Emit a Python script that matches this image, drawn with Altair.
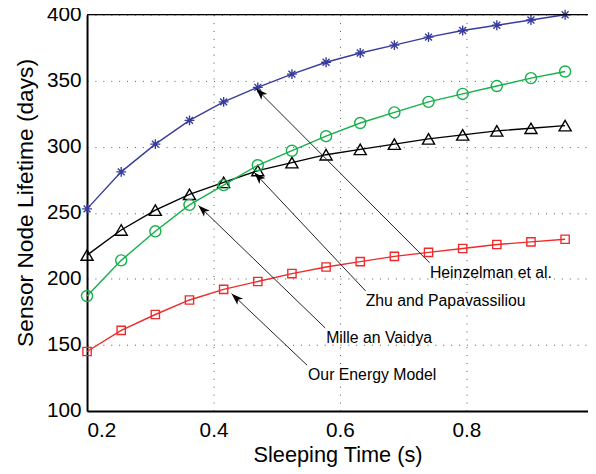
import math
import altair as alt
import pandas as pd

# ---------------- data ----------------
x_vals = [0.200, 0.254, 0.308, 0.362, 0.416, 0.470, 0.524, 0.578,
          0.632, 0.686, 0.740, 0.794, 0.848, 0.902, 0.956]

heinzelman = [253, 281, 302, 320, 334, 345, 355, 364, 371, 377, 383, 388, 392, 396, 400]
zhu = [218, 237, 252, 264, 273, 282, 288, 294, 298, 302, 306, 309, 312, 314, 316]
mille = [187, 214, 236, 256, 271, 286, 297, 308, 318, 326, 334, 340, 346, 352, 357]
ours = [145, 161, 173, 184, 192, 198, 204, 209, 213, 217, 220, 223, 226, 228, 230]

labels = ["Heinzelman et al.", "Zhu and Papavassiliou", "Mille an Vaidya", "Our Energy Model"]
label_x = [0.7422, 0.6406, 0.5781, 0.5495]
label_y = [201.0, 179.3, 151.6, 123.4]
tail_x = [0.7417, 0.6406, 0.5766, 0.5480]
tail_y = [212.2, 190.8, 162.8, 134.6]
tip_x = [0.4672, 0.4645, 0.3761, 0.4286]
tip_y = [344.1, 280.5, 255.6, 188.8]

x_ticks = [0.2, 0.4, 0.6, 0.8]
y_ticks = [100, 150, 200, 250, 300, 350, 400]

# ---------------- layout ----------------
W, H = 507, 401
X_MIN = 0.2
X_MAX = 0.2 + W / 640.0
Y_MIN, Y_MAX = 100, 400
FONT = "Liberation Sans"

xs = alt.Scale(domain=[X_MIN, X_MAX], nice=False, zero=False)
ys = alt.Scale(domain=[Y_MIN, Y_MAX], nice=False, zero=False)

x_axis = alt.Axis(values=x_ticks, format=".1f", title="Sleeping Time (s)",
                  grid=True, gridDash=[1, 7], gridColor="#555555", gridWidth=1,
                  ticks=False, tickSize=0, labelPadding=26, labelBaseline="alphabetic",
                  labelFontSize=21, labelColor="black", labelFont=FONT,
                  domainColor="black", domainWidth=2,
                  titleFontSize=22, titleFont=FONT, titleFontWeight="normal",
                  titleColor="black", titleBaseline="alphabetic", titleY=51)
y_axis = alt.Axis(values=y_ticks, format="d", title="Sensor Node Lifetime (days)",
                  grid=True, gridDash=[1, 7], gridColor="#555555", gridWidth=1,
                  ticks=False, tickSize=0, labelPadding=6,
                  labelFontSize=21, labelColor="black", labelFont=FONT,
                  domainColor="black", domainWidth=2,
                  titleFontSize=23, titleFont=FONT, titleFontWeight="normal",
                  titleColor="black", titleAngle=270, titleBaseline="alphabetic",
                  titleAlign="center", titleX=-55, titleY=190)

STAR = "M0,-1L0,1M-1,0L1,0M-0.7,-0.7L0.7,0.7M-0.7,0.7L0.7,-0.7"
ARROW = "M0,0L0.35,1L0,0.75L-0.35,1Z"

series = [
    (ours, "#ee2b2b", "square", 70),
    (zhu, "#000000", "triangle-up", 150),
    (mille, "#14b04a", "circle", 125),
    (heinzelman, "#383c9c", STAR, 100),
]

layers = []
for vals, color, shape, size in series:
    df = pd.DataFrame({"x": x_vals, "y": vals})
    base = alt.Chart(df).encode(
        x=alt.X("x:Q", scale=xs, axis=x_axis),
        y=alt.Y("y:Q", scale=ys, axis=y_axis),
    )
    layers.append(base.mark_line(color=color, strokeWidth=1.4))
    layers.append(base.mark_point(shape=shape, size=size, color=color, filled=False,
                                  strokeWidth=1.4, opacity=1))

# arrows
px_x = W / (X_MAX - X_MIN)
px_y = H / (Y_MAX - Y_MIN)
angles = []
for tx, ty, hx, hy in zip(tail_x, tail_y, tip_x, tip_y):
    dx = (hx - tx) * px_x
    dy = -(hy - ty) * px_y
    angles.append(math.degrees(math.atan2(dx, -dy)) % 360)

arr = pd.DataFrame({"tx": tail_x, "ty": tail_y, "hx": tip_x, "hy": tip_y,
                    "angle": angles, "label": labels, "lx": label_x, "ly": label_y})

rules = alt.Chart(arr).mark_rule(color="#222222", strokeWidth=1).encode(
    x=alt.X("tx:Q", scale=xs, axis=x_axis), y=alt.Y("ty:Q", scale=ys, axis=y_axis),
    x2="hx:Q", y2="hy:Q")
heads = alt.Chart(arr).mark_point(shape=ARROW, size=576, filled=True, color="black",
                                  opacity=1, strokeWidth=0).encode(
    x=alt.X("hx:Q", scale=xs, axis=x_axis), y=alt.Y("hy:Q", scale=ys, axis=y_axis),
    angle=alt.Angle("angle:Q", scale=None))
texts = alt.Chart(arr).mark_text(align="left", baseline="alphabetic", fontSize=16,
                                 font=FONT, color="black").encode(
    x=alt.X("lx:Q", scale=xs, axis=x_axis), y=alt.Y("ly:Q", scale=ys, axis=y_axis),
    text="label:N")

top_border = alt.Chart(pd.DataFrame({"a": [0]})).mark_rule(
    color="black", strokeWidth=1.2).encode(x=alt.value(0), x2=alt.value(W), y=alt.value(0))

chart = alt.layer(*layers, rules, heads, texts, top_border).properties(
    width=W, height=H,
    padding={"left": 80, "top": 4, "right": 0, "bottom": 56},
    autosize=alt.AutoSizeParams(type="none"),
).configure_view(stroke="transparent").configure(font=FONT)

chart.save("out.html", embed_options={"renderer": "svg", "actions": False})
